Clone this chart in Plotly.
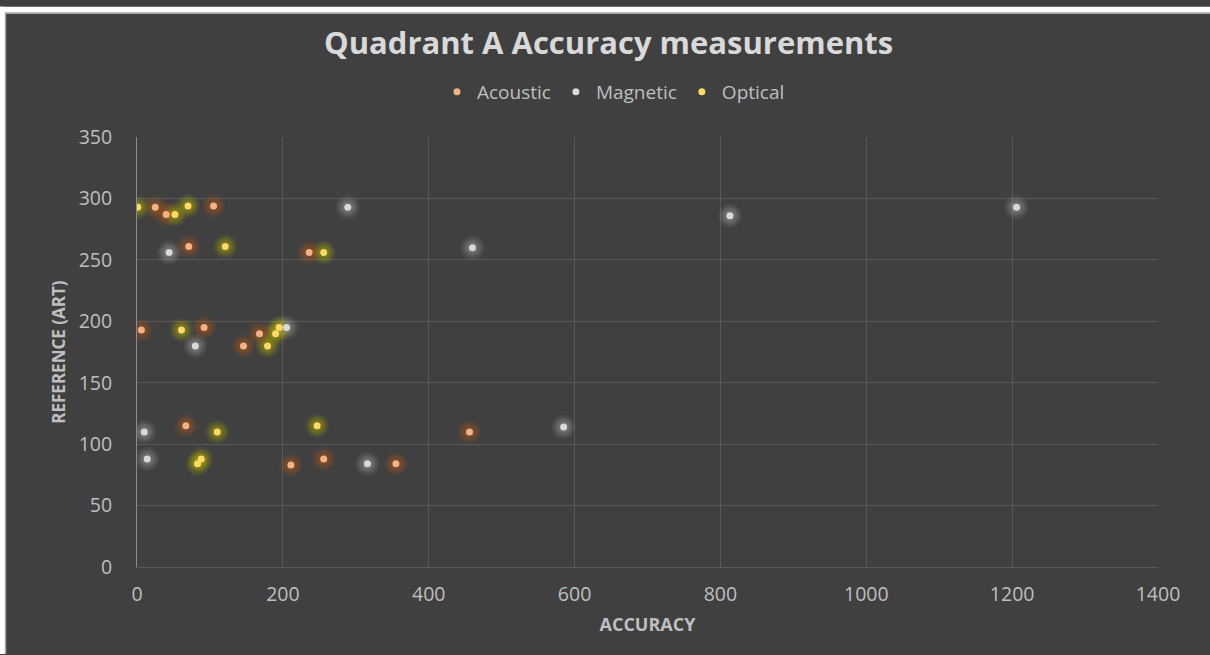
import plotly.graph_objects as go

# ---- data ----
acoustic_x = [25, 40, 105, 71, 236, 6, 92, 168, 146, 67, 211, 256, 355, 456]
acoustic_y = [293, 287, 294, 261, 256, 193, 195, 190, 180, 115, 83, 88, 84, 110]

magnetic_x = [44, 289, 460, 813, 1206, 80, 205, 10, 14, 316, 585]
magnetic_y = [256, 293, 260, 286, 293, 180, 195, 110, 88, 84, 114]

optical_x = [1, 52, 70, 121, 256, 61, 179, 190, 195, 110, 247, 88, 83]
optical_y = [293, 287, 294, 261, 256, 193, 180, 190, 195, 110, 115, 88, 84]

series = [
    ("Acoustic", acoustic_x, acoustic_y, "#F4B183", "#B4581A"),
    ("Magnetic", magnetic_x, magnetic_y, "#D9D9D9", "#A6A6A6"),
    ("Optical", optical_x, optical_y, "#FFD966", "#B5B500"),
]

BG = "#404040"
TXT = "#BFBFBF"
FONT = "'Open Sans', sans-serif"

fig = go.Figure()

# soft glow layers (stacked translucent discs give a diffuse halo)
for size, op in [(24, 0.09), (20, 0.12), (16, 0.15), (12, 0.2)]:
    for name, xs, ys, col, glow in series:
        fig.add_trace(go.Scatter(
            x=xs, y=ys, mode="markers", showlegend=False, hoverinfo="skip",
            marker=dict(size=size, color=glow, opacity=op, line=dict(width=0)),
        ))

# dots
for name, xs, ys, col, glow in series:
    fig.add_trace(go.Scatter(
        x=xs, y=ys, mode="markers", name=name,
        marker=dict(size=7, color=col, line=dict(width=0)),
    ))

W, H = 1210, 655
L, R, T, B = 137, 52, 132, 88
pw, ph = W - L - R, H - T - B

def px(xp):
    return (xp - L) / pw

def py(yp):
    return 1 - (yp - T) / ph

shapes = [
    dict(type="rect", xref="paper", yref="paper", x0=px(0), x1=px(W), y0=py(0), y1=py(6),
         fillcolor="white", line=dict(width=0), layer="above"),
    dict(type="rect", xref="paper", yref="paper", x0=px(0), x1=px(5), y0=py(0), y1=py(H),
         fillcolor="white", line=dict(width=0), layer="above"),
    dict(type="line", xref="paper", yref="paper", x0=px(5), x1=px(W), y0=py(6.5), y1=py(6.5),
         line=dict(color="#A6A6A6", width=1.5), layer="above"),
    dict(type="line", xref="paper", yref="paper", x0=px(5.5), x1=px(5.5), y0=py(6), y1=py(H),
         line=dict(color="#A6A6A6", width=1.5), layer="above"),
]

fig.update_layout(
    width=W, height=H,
    margin=dict(l=L, r=R, t=T, b=B, pad=0),
    paper_bgcolor=BG, plot_bgcolor=BG,
    font=dict(family=FONT, color=TXT, size=18),
    title=dict(text="<b>Quadrant A Accuracy measurements</b>",
               x=0.503, xanchor="center", y=1 - 43 / H, yanchor="middle",
               font=dict(size=31, color="#D9D9D9", family=FONT)),
    legend=dict(orientation="h", xref="container", yref="container",
                x=0.507, xanchor="center", y=1 - 92 / H, yanchor="middle",
                font=dict(size=19, color=TXT), bgcolor="rgba(0,0,0,0)",
                itemsizing="trace", itemwidth=30, tracegroupgap=0),
    xaxis=dict(range=[0, 1400], dtick=200, showgrid=True, gridcolor="#595959", gridwidth=1,
               zeroline=False, showline=True, linecolor="#595959", linewidth=1,
               ticks="outside", ticklen=10, tickcolor="rgba(0,0,0,0)",
               tickfont=dict(size=19.5, color=TXT),
               title=dict(text="<b>ACCURACY</b>", font=dict(size=18, color=TXT), standoff=11)),
    yaxis=dict(range=[0, 350], dtick=50, showgrid=True, gridcolor="#595959", gridwidth=1,
               zeroline=False, showline=True, linecolor="#8C8C8C", linewidth=1,
               ticks="outside", ticklen=20, tickcolor="rgba(0,0,0,0)",
               tickfont=dict(size=19.5, color=TXT),
               title=dict(text="<b>REFERENCE (ART)</b>", font=dict(size=17, color=TXT), standoff=8)),
    shapes=shapes,
)

fig.write_html("out.html", config={"displayModeBar": False},
               post_script="document.body.style.margin='0';")
